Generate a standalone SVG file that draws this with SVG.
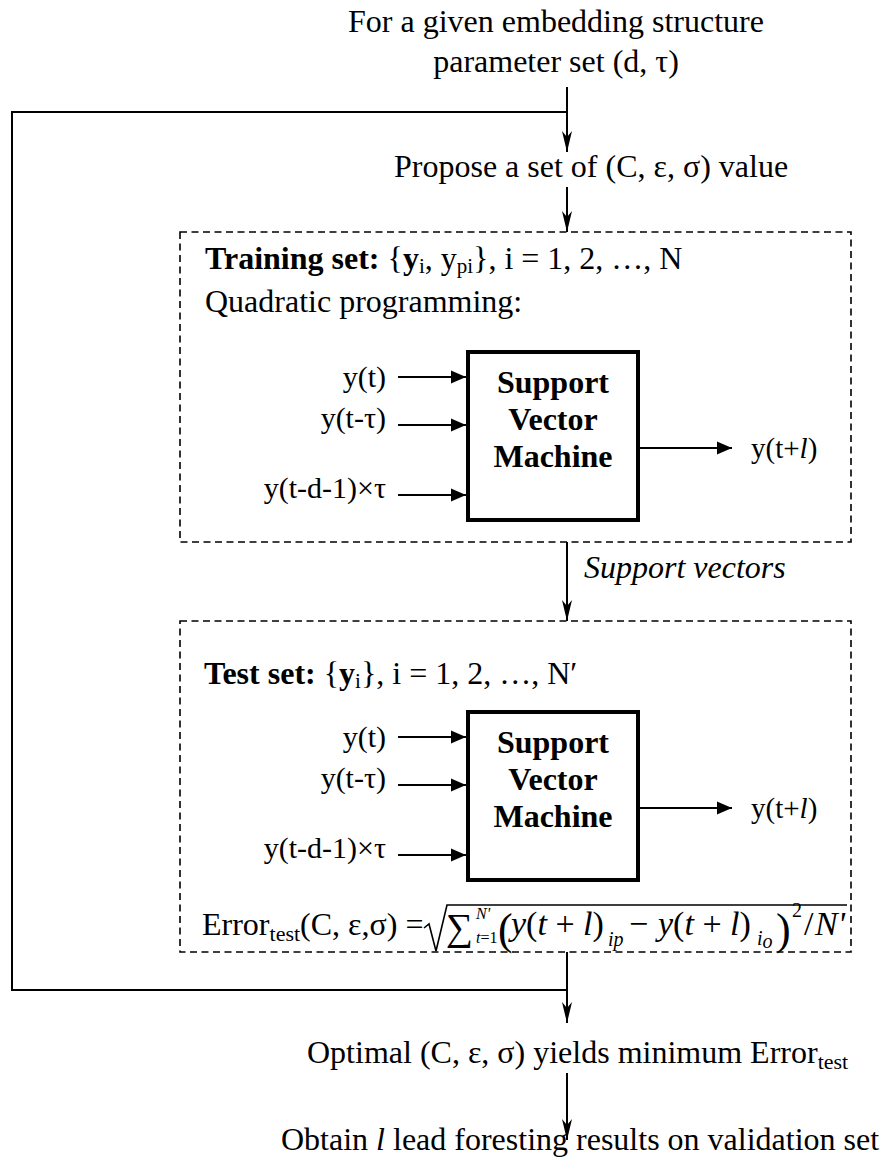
<svg xmlns="http://www.w3.org/2000/svg" width="881" height="1168" viewBox="0 0 881 1168">
<style>
text{font-family:"Liberation Serif","Times New Roman",serif;fill:#000}
.t{font-size:32px}
.lb{font-size:30px}
.lo{font-size:29px}
.f{font-size:34px}
.b{font-weight:bold}
.i{font-style:italic}
.svm{font-size:32px;font-weight:bold;text-anchor:middle}
.dash{fill:none;stroke:#000;stroke-width:1.6;stroke-dasharray:7 4.5}
.box{fill:#fff;stroke:#000;stroke-width:4}
.ln{fill:none;stroke:#000;stroke-width:2}
.in{fill:none;stroke:#000;stroke-width:2;marker-end:url(#tri)}
.va{fill:none;stroke:#000;stroke-width:2;marker-end:url(#notch)}
</style>
<defs>
<marker id="notch" markerUnits="userSpaceOnUse" viewBox="-25 -10 30 20" markerWidth="30" markerHeight="20" refX="0" refY="0" orient="auto">
<path d="M0,0 L-21,-5 L-15,0 L-21,5 Z" fill="#000"/>
</marker>
<marker id="tri" markerUnits="userSpaceOnUse" viewBox="-20 -10 22 20" markerWidth="22" markerHeight="20" refX="0" refY="0" orient="auto">
<path d="M0,0 L-15,-6.5 L-15,6.5 Z" fill="#000"/>
</marker>
</defs>

<g id="connectors">
<path class="ln" d="M567,112 H12 V990 H567"/>
<path class="va" d="M567,87 V152"/>
<path class="va" d="M567,187 V232"/>
<path class="va" d="M567,542 V621"/>
<path class="va" d="M567,952 V1023"/>
<path class="va" d="M567,1073 V1140"/>
</g>

<g id="start">
<text class="t" x="556" y="32" text-anchor="middle">For a given embedding structure</text>
<text class="t" x="556" y="72" text-anchor="middle">parameter set (d, τ)</text>
</g>

<g id="propose">
<text class="t" x="394" y="177">Propose a set of (C, ε, σ) value</text>
</g>

<g id="training">
<rect class="dash" x="180" y="232" width="671" height="310"/>
<text class="t" x="205" y="269"><tspan class="b">Training set:</tspan> {<tspan class="b">y</tspan><tspan font-size="21" dy="4">i</tspan><tspan dy="-4">, y</tspan><tspan font-size="21" dy="4">pi</tspan><tspan dy="-4">}, i = 1, 2, …, N</tspan></text>
<text class="t" x="205" y="312">Quadratic programming:</text>
<g id="svm1">
<rect class="box" x="468" y="352" width="170" height="168"/>
<text class="svm" x="553" y="393">Support</text>
<text class="svm" x="553" y="430">Vector</text>
<text class="svm" x="553" y="467">Machine</text>
</g>
<text class="lb" x="386" y="387" text-anchor="end">y(t)</text>
<text class="lb" x="386" y="428" text-anchor="end">y(t-τ)</text>
<text class="lb" x="386" y="498" text-anchor="end">y(t-d-1)×τ</text>
<path class="in" d="M398,377 H466"/>
<path class="in" d="M398,425 H466"/>
<path class="in" d="M398,495 H466"/>
<path class="in" d="M640,448 H732"/>
<text class="lo" x="751" y="458">y(t+<tspan class="i">l</tspan>)</text>
</g>

<g id="support-vectors">
<text class="t i" x="584" y="578">Support vectors</text>
</g>

<g id="test">
<rect class="dash" x="180" y="621" width="671" height="331"/>
<text class="t" x="204" y="684"><tspan class="b">Test set:</tspan> {<tspan class="b">y</tspan><tspan font-size="21" dy="4">i</tspan><tspan dy="-4">}, i = 1, 2, …, N′</tspan></text>
<g id="svm2">
<rect class="box" x="468" y="712" width="170" height="168"/>
<text class="svm" x="553" y="753">Support</text>
<text class="svm" x="553" y="790">Vector</text>
<text class="svm" x="553" y="827">Machine</text>
</g>
<text class="lb" x="386" y="747" text-anchor="end">y(t)</text>
<text class="lb" x="386" y="788" text-anchor="end">y(t-τ)</text>
<text class="lb" x="386" y="858" text-anchor="end">y(t-d-1)×τ</text>
<path class="in" d="M398,737 H466"/>
<path class="in" d="M398,785 H466"/>
<path class="in" d="M398,855 H466"/>
<path class="in" d="M640,808 H732"/>
<text class="lo" x="751" y="818">y(t+<tspan class="i">l</tspan>)</text>
<g id="formula">
<text class="t" x="202" y="935">Error<tspan font-size="22" dy="6">test</tspan><tspan dy="-6">(C, ε,σ) =</tspan></text>
<path d="M424,928 L429,924 L436,951 L447,905 H847" fill="none" stroke="#000" stroke-width="1.6"/>
<text x="446" y="940" font-size="38">∑</text>
<text x="476" y="919" font-size="16" class="i">N'</text>
<text x="476" y="943" font-size="16"><tspan class="i">t</tspan>=1</text>
<text x="498" y="944" font-size="44">(</text>
<text class="f" x="511" y="935"><tspan class="i">y</tspan>(<tspan class="i">t</tspan> + <tspan class="i">l</tspan>)</text>
<text class="i" x="608" y="946" font-size="20">ip</text>
<text class="f" x="629" y="935">−</text>
<text class="f" x="658" y="935"><tspan class="i">y</tspan>(<tspan class="i">t</tspan> + <tspan class="i">l</tspan>)</text>
<text class="i" x="757" y="945" font-size="20">i<tspan dy="3">o</tspan></text>
<text x="776" y="944" font-size="44">)</text>
<text x="792" y="917" font-size="20">2</text>
<text class="f" x="804" y="935">/</text>
<text class="f i" x="815" y="935">N'</text>
</g>
</g>

<g id="optimal">
<text class="t" x="307" y="1063">Optimal (C, ε, σ) yields minimum Error<tspan font-size="22" dy="6">test</tspan></text>
</g>

<g id="result">
<text class="t" x="281" y="1150">Obtain <tspan class="i">l</tspan> lead foresting results on validation set</text>
</g>
</svg>
